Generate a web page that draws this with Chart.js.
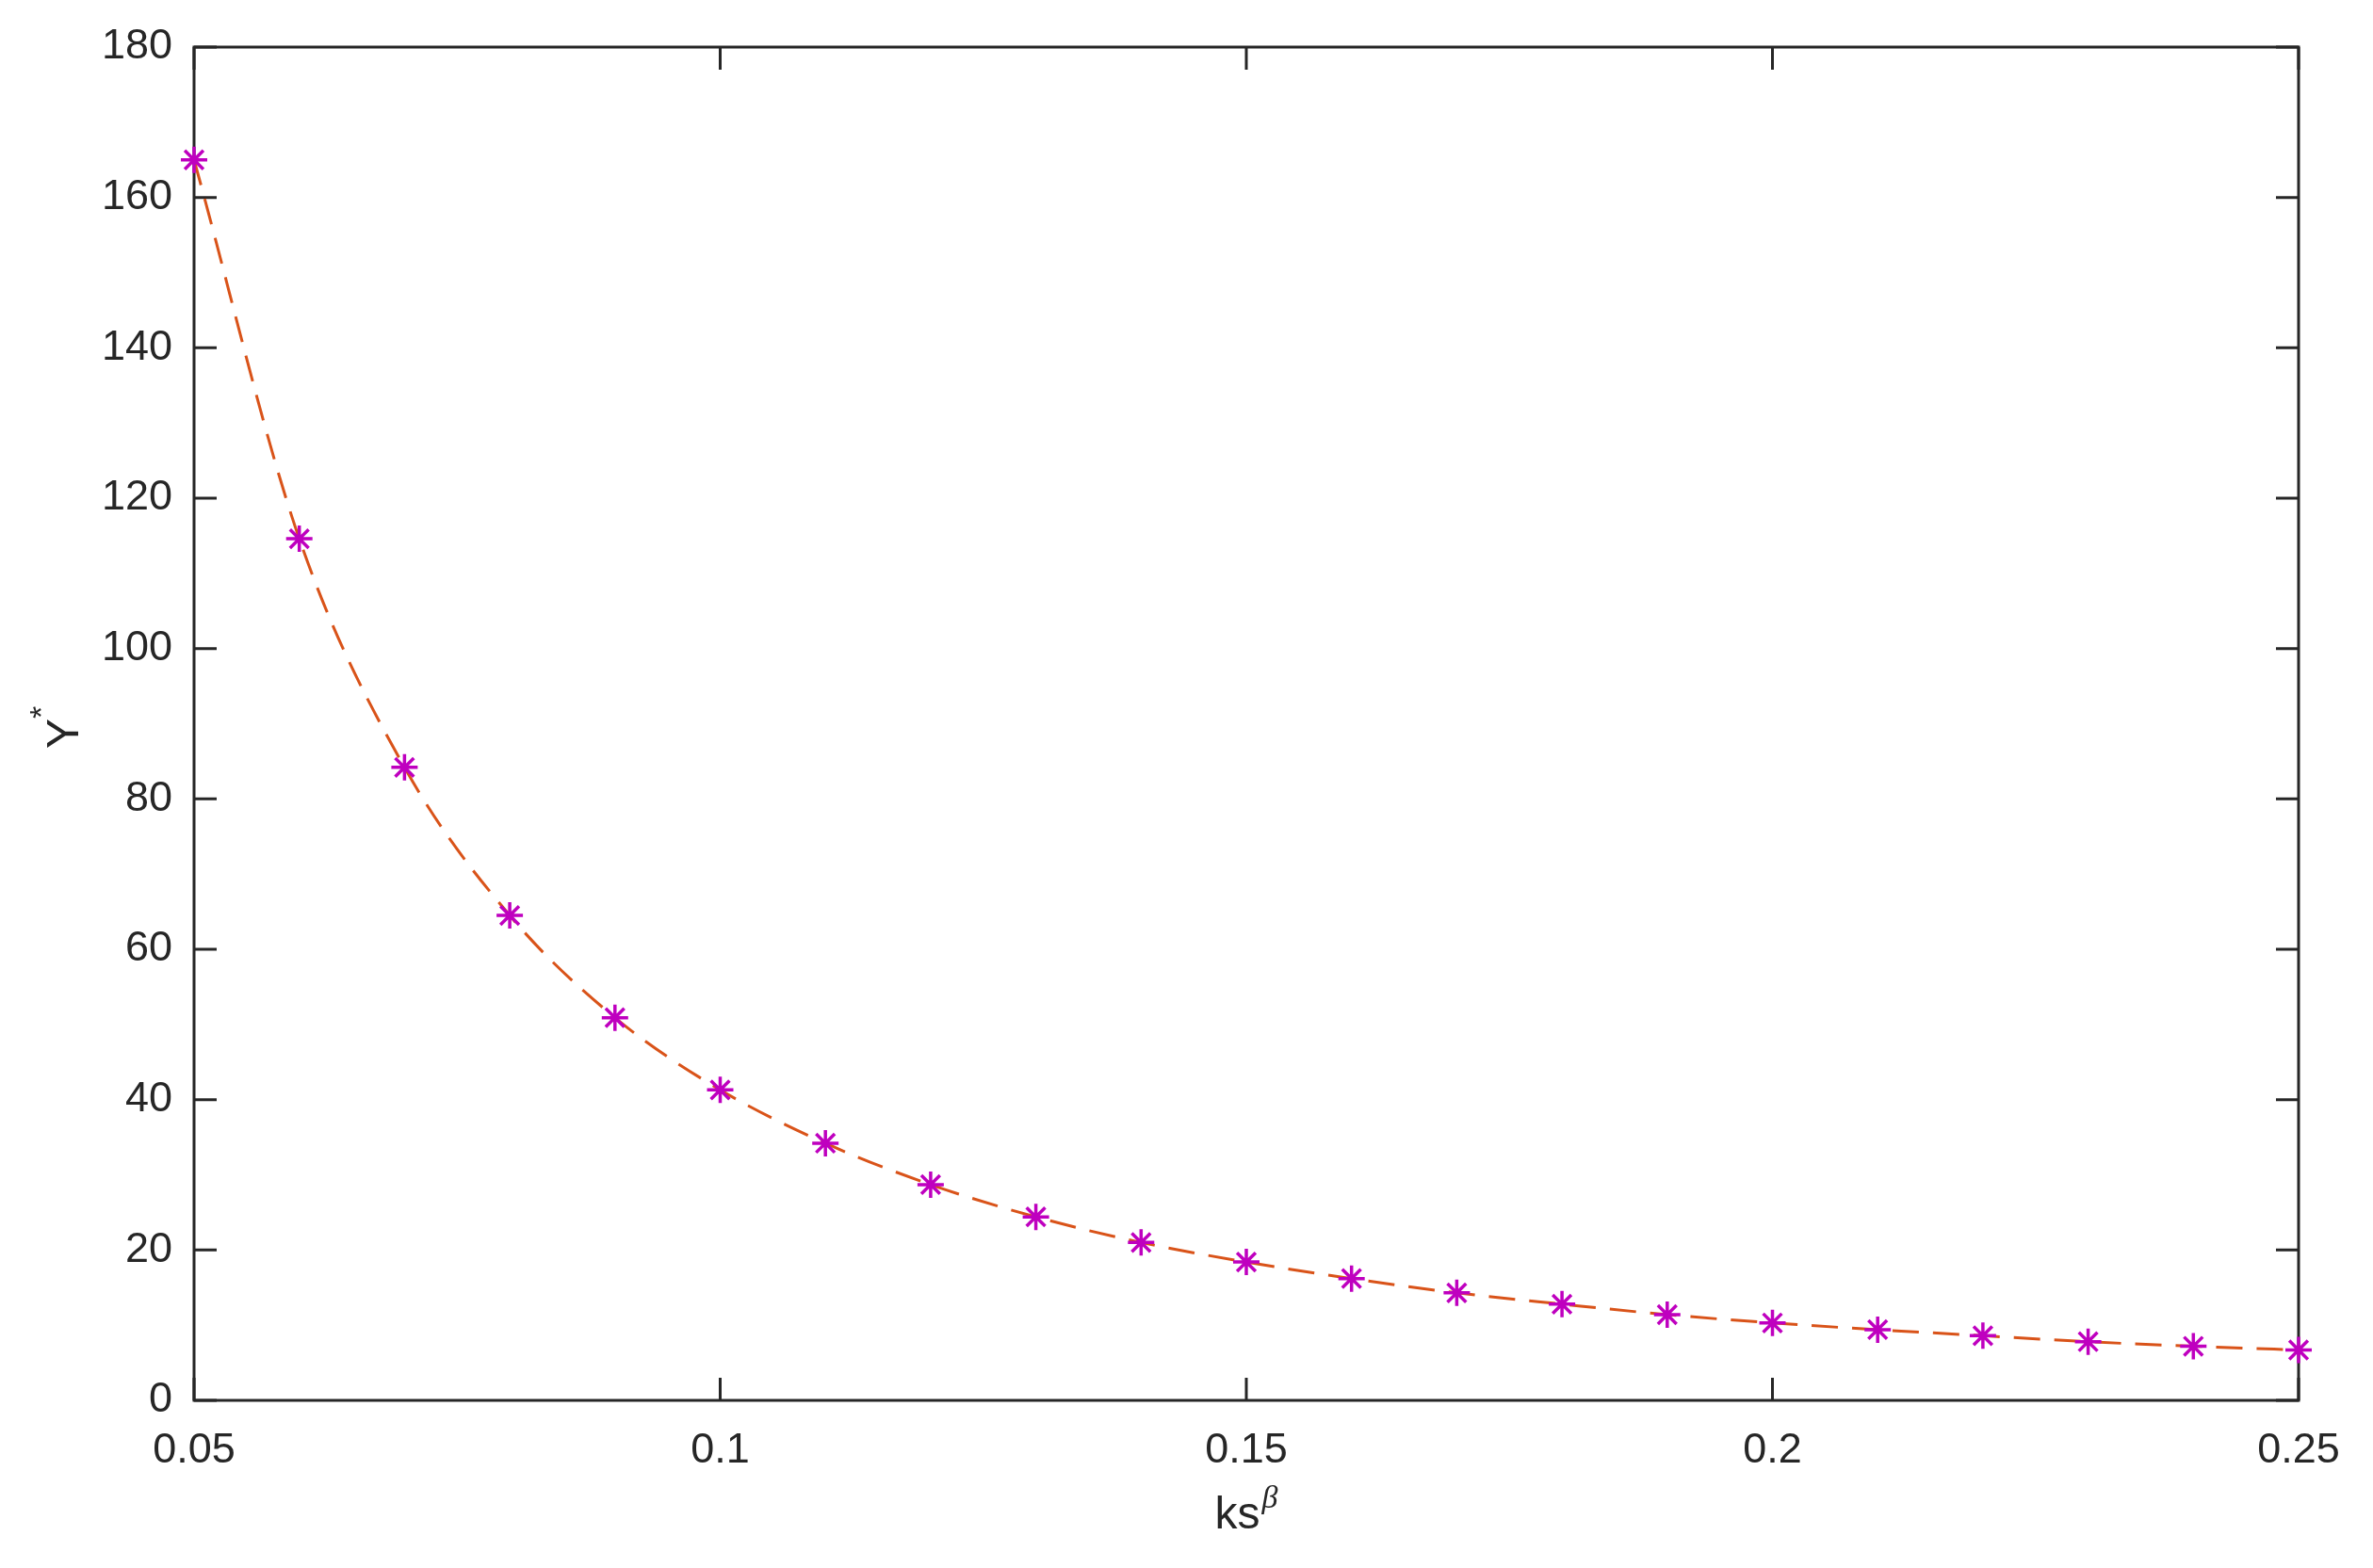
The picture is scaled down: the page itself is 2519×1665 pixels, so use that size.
<!DOCTYPE html>
<html>
<head>
<meta charset="utf-8">
<script src="https://cdn.jsdelivr.net/npm/chart.js@4/dist/chart.umd.min.js"></script>
<style>
html,body{margin:0;padding:0;background:#fff;}
canvas{display:block;}
</style>
</head>
<body>
<canvas id="c" width="2519" height="1665"></canvas>
<script>
const ksBeta = [0.05,0.06,0.07,0.08,0.09,0.10,0.11,0.12,0.13,0.14,0.15,0.16,0.17,0.18,0.19,0.20,0.21,0.22,0.23,0.24,0.25];
const yStar  = [165.0,114.6,84.2,64.5,50.9,41.3,34.2,28.7,24.4,21.0,18.4,16.2,14.3,12.8,11.4,10.3,9.4,8.6,7.8,7.2,6.7];
const xTickValues = [0.05,0.10,0.15,0.20,0.25];
const xTickLabels = ["0.05","0.1","0.15","0.2","0.25"];
const yTickValues = [0,20,40,60,80,100,120,140,160,180];
const yTickLabels = ["0","20","40","60","80","100","120","140","160","180"];

const AX = '#262626';
const FONT = '"Liberation Sans", Arial, Helvetica, sans-serif';

const points = ksBeta.map((x,i)=>({x:x,y:yStar[i]}));

const framePlugin = {
  id:'frame',
  beforeDatasetsDraw(chart){
    const ctx = chart.ctx, a = chart.chartArea;
    const xs = chart.scales.x, ys = chart.scales.y;
    ctx.save();
    ctx.strokeStyle = AX;
    ctx.lineWidth = 3;
    ctx.lineCap = 'butt';
    const T = 24;
    ctx.beginPath();
    xTickValues.forEach(v=>{
      const p = xs.getPixelForValue(v);
      ctx.moveTo(p,a.bottom); ctx.lineTo(p,a.bottom-T);
      ctx.moveTo(p,a.top); ctx.lineTo(p,a.top+T);
    });
    yTickValues.forEach(v=>{
      const p = ys.getPixelForValue(v);
      ctx.moveTo(a.left,p); ctx.lineTo(a.left+T,p);
      ctx.moveTo(a.right,p); ctx.lineTo(a.right-T,p);
    });
    ctx.stroke();
    ctx.beginPath();
    ctx.rect(a.left,a.top,a.right-a.left,a.bottom-a.top);
    ctx.stroke();
    ctx.restore();
  },
  afterDraw(chart){
    const ctx = chart.ctx, a = chart.chartArea;
    ctx.save();
    ctx.fillStyle = AX;
    const main = '48px ' + FONT;
    const sup = 'italic 34px "Liberation Serif", "DejaVu Serif", serif';
    ctx.font = main;
    const w1 = ctx.measureText('ks').width;
    ctx.font = sup;
    const w2 = ctx.measureText('β').width;
    const cx = (a.left + a.right)/2;
    const x0 = cx - (w1 + w2 + 2)/2;
    const base = 1623;
    ctx.textBaseline = 'alphabetic';
    ctx.textAlign = 'left';
    ctx.font = main;
    ctx.fillText('ks', x0, base);
    ctx.font = sup;
    ctx.fillText('β', x0 + w1 + 2, base - 22);
    ctx.save();
    const cy = (a.top + a.bottom)/2;
    ctx.translate(83, cy + 4);
    ctx.rotate(-Math.PI/2);
    ctx.font = main;
    const wy = ctx.measureText('Y').width;
    ctx.font = '34px ' + FONT;
    const ws = ctx.measureText('*').width;
    const sx = -(wy + ws)/2;
    ctx.font = main;
    ctx.fillText('Y', sx, 0);
    ctx.font = '34px ' + FONT;
    ctx.fillText('*', sx + wy, -28);
    ctx.restore();
    ctx.restore();
  }
};

new Chart(document.getElementById('c'), {
  type:'scatter',
  data:{
    datasets:[
      {
        data: points,
        showLine:false,
        pointStyle:'star',
        pointRadius:14,
        pointHoverRadius:14,
        pointBorderWidth:3.5,
        borderColor:'#BF00BF',
        backgroundColor:'#BF00BF',
        clip:false,
        order:0
      },
      {
        data: points,
        showLine:true,
        pointRadius:0,
        borderColor:'#D95319',
        borderWidth:3,
        borderDash:[28,15],
        cubicInterpolationMode:'monotone',
        fill:false,
        clip:false,
        order:1
      }
    ]
  },
  options:{
    responsive:false,
    animation:false,
    devicePixelRatio:1,
    layout:{padding:{top:46,right:79,left:0,bottom:0}},
    plugins:{legend:{display:false},tooltip:{enabled:false},title:{display:false}},
    scales:{
      x:{
        type:'linear',
        min:0.05,max:0.25,
        grid:{display:false,drawTicks:false},
        border:{display:false},
        afterBuildTicks(s){ s.ticks = xTickValues.map(v=>({value:v})); },
        afterFit(s){ s.height = 178; },
        ticks:{
          color:AX,
          font:{family:FONT,size:45},
          padding:27,
          maxRotation:0,
          autoSkip:false,
          callback(v,i){ return xTickLabels[i]; }
        }
      },
      y:{
        type:'linear',
        min:0,max:180,
        grid:{display:false,drawTicks:false},
        border:{display:false},
        afterBuildTicks(s){ s.ticks = yTickValues.map(v=>({value:v})); },
        afterFit(s){ s.width = 206; },
        ticks:{
          color:AX,
          font:{family:FONT,size:45},
          padding:23,
          autoSkip:false,
          callback(v,i){ return yTickLabels[i]; }
        }
      }
    }
  },
  plugins:[framePlugin]
});
</script>
</body>
</html>
